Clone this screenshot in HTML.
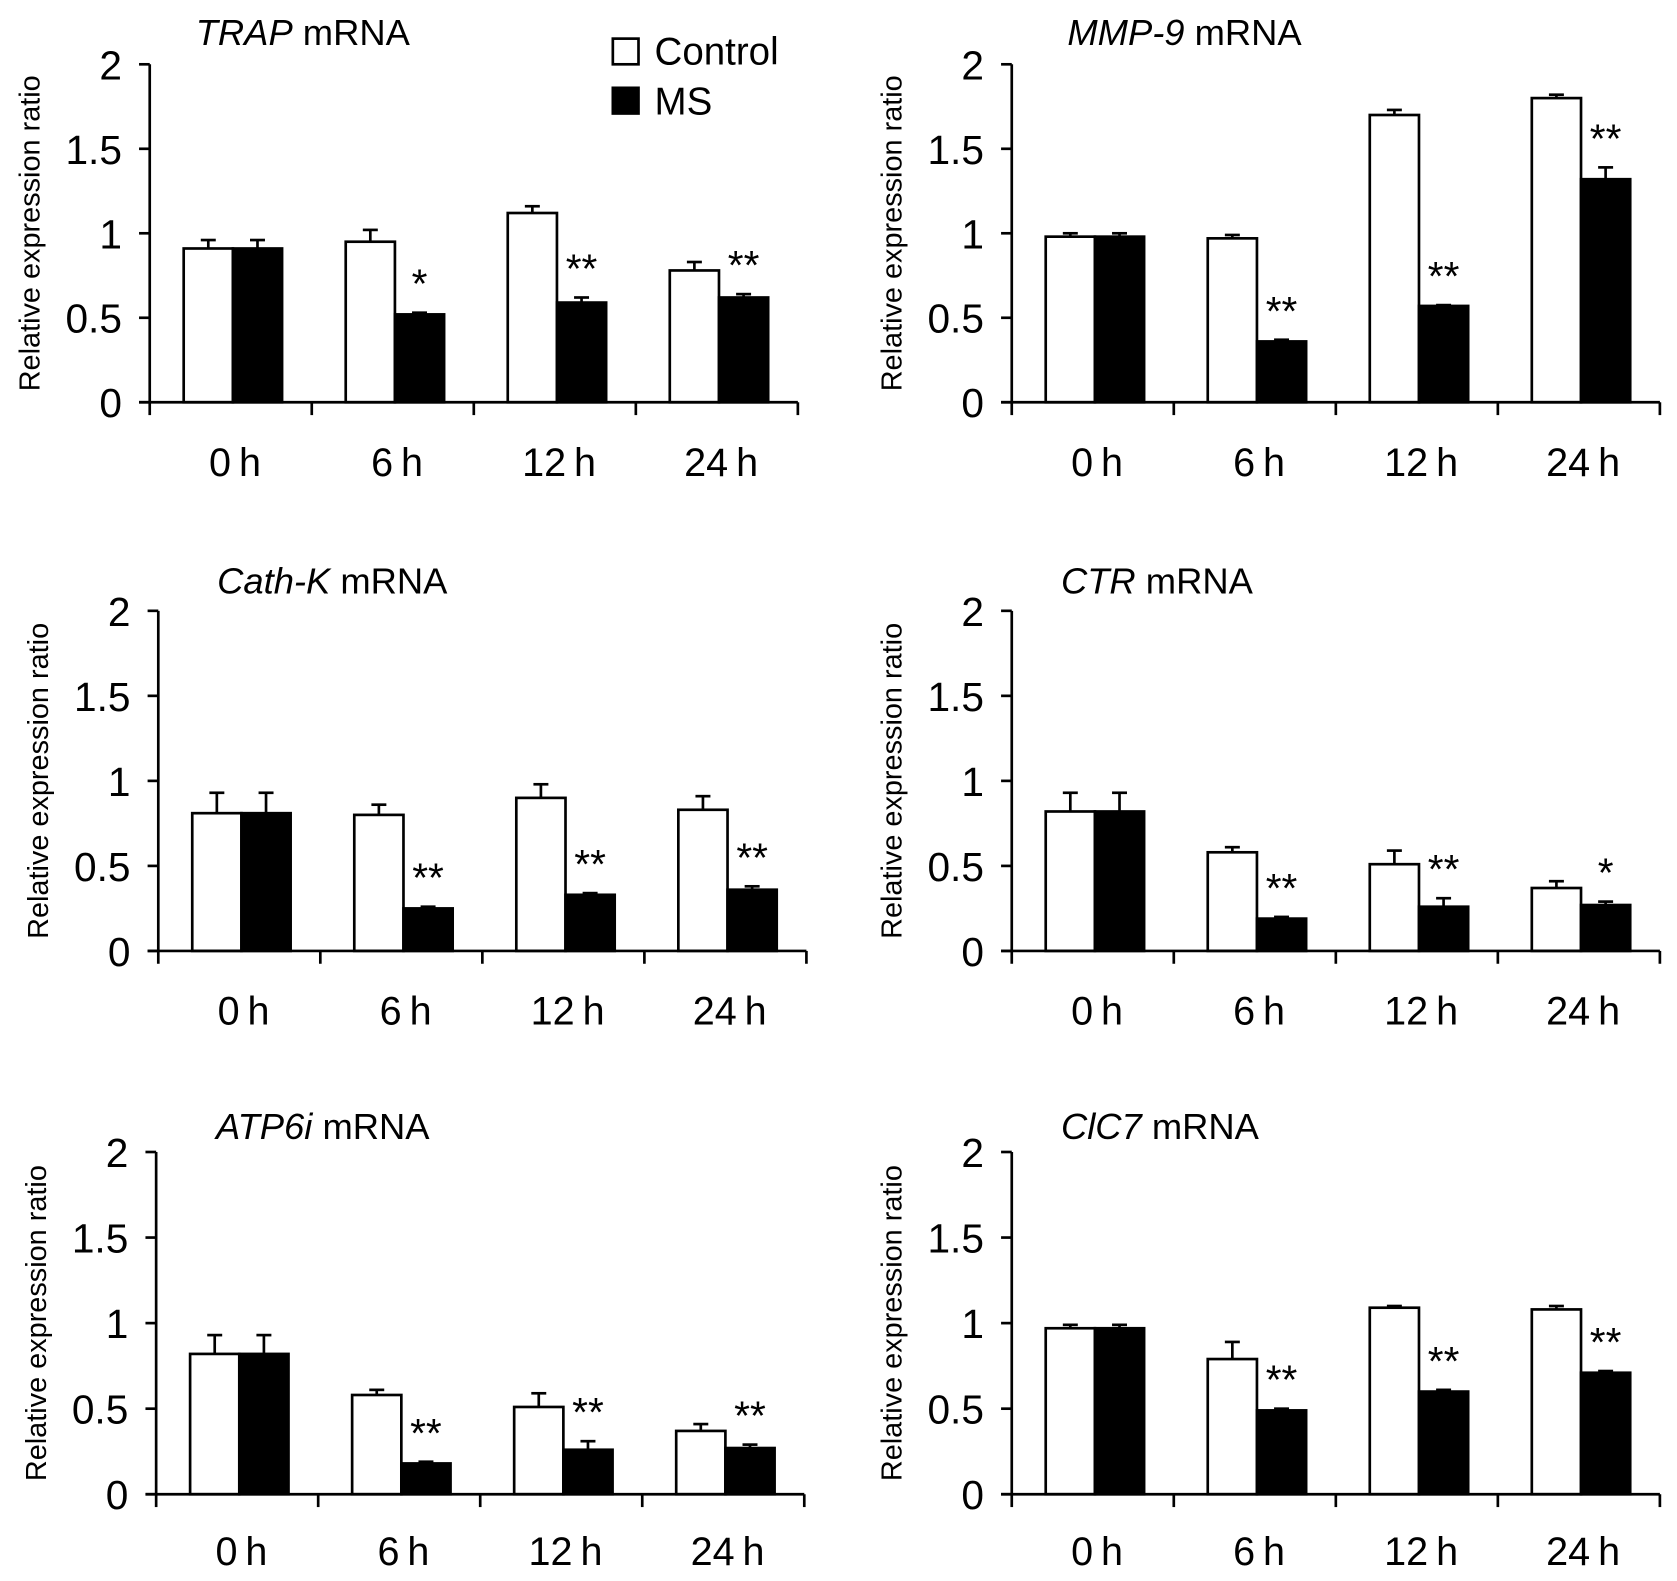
<!DOCTYPE html>
<html><head><meta charset="utf-8"><style>
html,body{margin:0;padding:0;background:#fff}
svg{display:block}
text{font-family:"Liberation Sans Narrow","Liberation Sans",sans-serif;fill:#000}
</style></head><body>
<svg id="fig" width="1677" height="1581" viewBox="0 0 1568 1478" xmlns="http://www.w3.org/2000/svg"></svg>
<script>
const categories = ["0\u2009h","6\u2009h","12\u2009h","24\u2009h"];
const yTicks = [0,0.5,1,1.5,2];
const yTickLabels = ["0","0.5","1","1.5","2"];
const genes = ["TRAP","MMP-9","Cath-K","CTR","ATP6i","ClC7"];
const trapControl = [0.91,0.95,1.12,0.78];
const trapControlErr = [0.05,0.07,0.04,0.05];
const trapMS = [0.91,0.52,0.59,0.62];
const trapMSErr = [0.05,0.01,0.03,0.02];
const trapSig = ["","*","**","**"];
const mmpControl = [0.98,0.97,1.70,1.80];
const mmpControlErr = [0.02,0.02,0.03,0.02];
const mmpMS = [0.98,0.36,0.57,1.32];
const mmpMSErr = [0.02,0.01,0.005,0.07];
const mmpSig = ["","**","**","**"];
const cathControl = [0.81,0.80,0.90,0.83];
const cathControlErr = [0.12,0.06,0.08,0.08];
const cathMS = [0.81,0.25,0.33,0.36];
const cathMSErr = [0.12,0.01,0.01,0.02];
const cathSig = ["","**","**","**"];
const ctrControl = [0.82,0.58,0.51,0.37];
const ctrControlErr = [0.11,0.03,0.08,0.04];
const ctrMS = [0.82,0.19,0.26,0.27];
const ctrMSErr = [0.11,0.01,0.05,0.02];
const ctrSig = ["","**","**","*"];
const atpControl = [0.82,0.58,0.51,0.37];
const atpControlErr = [0.11,0.03,0.08,0.04];
const atpMS = [0.82,0.18,0.26,0.27];
const atpMSErr = [0.11,0.01,0.05,0.02];
const atpSig = ["","**","**","**"];
const clcControl = [0.97,0.79,1.09,1.08];
const clcControlErr = [0.02,0.10,0.01,0.02];
const clcMS = [0.97,0.49,0.60,0.71];
const clcMSErr = [0.02,0.01,0.01,0.01];
const clcSig = ["","**","**","**"];

const NS="http://www.w3.org/2000/svg";
const svg=document.getElementById('fig');
function mk(tag,attrs,parent){const e=document.createElementNS(NS,tag);for(const k in attrs)e.setAttribute(k,attrs[k]);(parent||svg).appendChild(e);return e;}

const panels=[
 {ax:140,top:60,bot:376,lab:432,name:"TRAP",c:trapControl,ce:trapControlErr,m:trapMS,me:trapMSErr,s:trapSig,tx:183,ty:42},
 {ax:946,top:60,bot:376,lab:432,name:"MMP-9",c:mmpControl,ce:mmpControlErr,m:mmpMS,me:mmpMSErr,s:mmpSig,tx:998,ty:42},
 {ax:148,top:571,bot:889,lab:945,name:"Cath-K",c:cathControl,ce:cathControlErr,m:cathMS,me:cathMSErr,s:cathSig,tx:203,ty:555},
 {ax:946,top:571,bot:889,lab:945,name:"CTR",c:ctrControl,ce:ctrControlErr,m:ctrMS,me:ctrMSErr,s:ctrSig,tx:992,ty:555},
 {ax:146,top:1077,bot:1397,lab:1450,name:"ATP6i",c:atpControl,ce:atpControlErr,m:atpMS,me:atpMSErr,s:atpSig,tx:202,ty:1065},
 {ax:946,top:1077,bot:1397,lab:1450,name:"ClC7",c:clcControl,ce:clcControlErr,m:clcMS,me:clcMSErr,s:clcSig,tx:992,ty:1065}
];
const W=606, step=W/4, bw=46;
panels.forEach((p,pi)=>{
  const g=mk('g',{});
  
  
  const y=v=>p.bot-(v/2)*(p.bot-p.top);
  const cx=i=>p.ax+step*(i+0.5);
  const t=mk('text',{x:p.tx,y:p.ty,'font-size':34},g);
  
  
  const ti=mk('tspan',{'font-style':'italic'},t);ti.textContent=p.name;
  const t2=mk('tspan',{},t);t2.textContent=" mRNA";
  const yl=mk('text',{x:0,y:0,'font-size':27,'text-anchor':'middle',transform:`translate(${p.ax-103},${(p.top+p.bot)/2}) rotate(-90)`,'font-family':'Liberation Sans, sans-serif'},g);
  yl.textContent="Relative expression ratio";
  
  
  for(let i=0;i<4;i++){
    [[p.c,p.ce,'#fff',-bw+2],[p.m,p.me,'#000',2]].forEach(([vals,errs,fill,off],si)=>{
      const x0=cx(i)+off, v=vals[i];
      const e=errs[i];
      const exx=x0+bw/2;
      const el=mk('line',{x1:exx,x2:exx,y1:y(v),y2:y(v+e),stroke:'#000','stroke-width':2.5},g);
      
      
      const ec=mk('line',{x1:exx-7,x2:exx+7,y1:y(v+e),y2:y(v+e),stroke:'#000','stroke-width':2.5},g);
      
      
      const r=mk('rect',{x:x0,y:y(v),width:bw,height:p.bot-y(v),fill:fill,stroke:'#000','stroke-width':2.5},g);
      
      
    });
    if(p.s[i]){
      const st=mk('text',{x:cx(i)+bw/2+2,y:y(p.m[i]+p.me[i])-14,'font-size':38,'text-anchor':'middle','font-family':'Liberation Sans, sans-serif'},g);
      st.textContent=p.s[i];
      
      
    }
    const cl=mk('text',{x:cx(i)+4,y:p.lab+13,'font-size':37,'text-anchor':'middle'},g);
    cl.textContent=categories[i];
    
    
  }
  const ya=mk('line',{x1:p.ax,x2:p.ax,y1:p.top,y2:p.bot,stroke:'#000','stroke-width':2.5},g);
  
  
  const xa=mk('line',{x1:p.ax-10,x2:p.ax+W,y1:p.bot,y2:p.bot,stroke:'#000','stroke-width':2.5},g);
  
  
  for(let k=0;k<=4;k++){
    const tk=mk('line',{x1:p.ax+step*k,x2:p.ax+step*k,y1:p.bot,y2:p.bot+12,stroke:'#000','stroke-width':2.5},g);
    
    
  }
  yTicks.forEach((v,k)=>{
    const tk=mk('line',{x1:p.ax-10,x2:p.ax,y1:y(v),y2:y(v),stroke:'#000','stroke-width':2.5},g);
    
    
    const tl=mk('text',{x:p.ax-26,y:y(v)+14,'font-size':38,'text-anchor':'end'},g);
    tl.textContent=yTickLabels[k];
    
    
  });
});
const lg=mk('g',{});


const lb1=mk('rect',{x:573,y:36,width:24,height:24,fill:'#fff',stroke:'#000','stroke-width':2.5},lg);


const lt1=mk('text',{x:612,y:60,'font-size':36},lg);lt1.textContent="Control";


const lb2=mk('rect',{x:573,y:82,width:24,height:24,fill:'#000',stroke:'#000','stroke-width':2.5},lg);


const lt2=mk('text',{x:612,y:107,'font-size':36},lg);lt2.textContent="MS";


</script>
</body></html>
